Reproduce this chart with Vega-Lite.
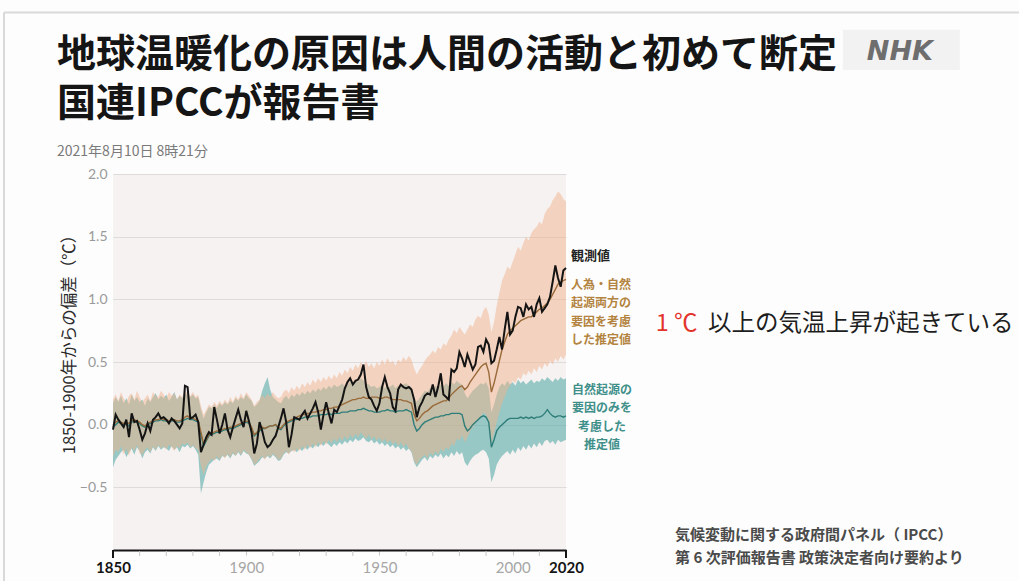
{
  "$schema": "https://vega.github.io/schema/vega-lite/v6.json",
  "width": 453,
  "height": 376,
  "autosize": {"type": "none"},
  "padding": {"left": 113, "top": 174, "right": 453, "bottom": 31},
  "background": "#fdfdfd",
  "config": {
    "view": {"fill": "#f7f2f2", "stroke": null},
    "font": "Noto Sans CJK JP"
  },
  "data": {
    "values": [
      {"year": 1850, "obs": -0.04, "hum": 0.00, "humLo": -0.26, "humHi": 0.20, "nat": -0.02, "natLo": -0.34, "natHi": 0.17},
      {"year": 1851, "obs": 0.08, "hum": 0.02, "humLo": -0.20, "humHi": 0.24, "nat": 0.00, "natLo": -0.28, "natHi": 0.22},
      {"year": 1852, "obs": 0.04, "hum": 0.03, "humLo": -0.22, "humHi": 0.19, "nat": 0.02, "natLo": -0.25, "natHi": 0.18},
      {"year": 1853, "obs": 0.01, "hum": 0.02, "humLo": -0.17, "humHi": 0.26, "nat": 0.01, "natLo": -0.22, "natHi": 0.23},
      {"year": 1854, "obs": -0.02, "hum": 0.01, "humLo": -0.24, "humHi": 0.21, "nat": 0.00, "natLo": -0.20, "natHi": 0.17},
      {"year": 1855, "obs": 0.04, "hum": 0.02, "humLo": -0.19, "humHi": 0.18, "nat": 0.01, "natLo": -0.26, "natHi": 0.21},
      {"year": 1856, "obs": -0.10, "hum": 0.01, "humLo": -0.25, "humHi": 0.23, "nat": -0.01, "natLo": -0.22, "natHi": 0.16},
      {"year": 1857, "obs": 0.09, "hum": 0.03, "humLo": -0.18, "humHi": 0.25, "nat": 0.02, "natLo": -0.19, "natHi": 0.24},
      {"year": 1858, "obs": 0.02, "hum": 0.04, "humLo": -0.21, "humHi": 0.20, "nat": 0.03, "natLo": -0.24, "natHi": 0.19},
      {"year": 1859, "obs": 0.03, "hum": 0.03, "humLo": -0.16, "humHi": 0.27, "nat": 0.02, "natLo": -0.18, "natHi": 0.22},
      {"year": 1860, "obs": -0.04, "hum": 0.02, "humLo": -0.23, "humHi": 0.22, "nat": 0.01, "natLo": -0.21, "natHi": 0.18},
      {"year": 1861, "obs": -0.12, "hum": 0.00, "humLo": -0.24, "humHi": 0.18, "nat": -0.01, "natLo": -0.27, "natHi": 0.20},
      {"year": 1862, "obs": -0.07, "hum": -0.01, "humLo": -0.20, "humHi": 0.21, "nat": -0.02, "natLo": -0.22, "natHi": 0.15},
      {"year": 1863, "obs": 0.01, "hum": 0.01, "humLo": -0.18, "humHi": 0.24, "nat": 0.00, "natLo": -0.20, "natHi": 0.21},
      {"year": 1864, "obs": -0.05, "hum": 0.02, "humLo": -0.22, "humHi": 0.19, "nat": 0.01, "natLo": -0.23, "natHi": 0.18},
      {"year": 1865, "obs": 0.04, "hum": 0.03, "humLo": -0.17, "humHi": 0.26, "nat": 0.02, "natLo": -0.18, "natHi": 0.22},
      {"year": 1866, "obs": 0.06, "hum": 0.04, "humLo": -0.20, "humHi": 0.23, "nat": 0.03, "natLo": -0.21, "natHi": 0.25},
      {"year": 1867, "obs": 0.09, "hum": 0.04, "humLo": -0.16, "humHi": 0.22, "nat": 0.03, "natLo": -0.17, "natHi": 0.20},
      {"year": 1868, "obs": 0.05, "hum": 0.05, "humLo": -0.19, "humHi": 0.27, "nat": 0.04, "natLo": -0.20, "natHi": 0.23},
      {"year": 1869, "obs": 0.06, "hum": 0.04, "humLo": -0.17, "humHi": 0.24, "nat": 0.03, "natLo": -0.18, "natHi": 0.21},
      {"year": 1870, "obs": 0.04, "hum": 0.04, "humLo": -0.20, "humHi": 0.21, "nat": 0.03, "natLo": -0.19, "natHi": 0.24},
      {"year": 1871, "obs": 0.01, "hum": 0.03, "humLo": -0.16, "humHi": 0.26, "nat": 0.02, "natLo": -0.21, "natHi": 0.19},
      {"year": 1872, "obs": 0.05, "hum": 0.04, "humLo": -0.18, "humHi": 0.23, "nat": 0.03, "natLo": -0.17, "natHi": 0.22},
      {"year": 1873, "obs": 0.03, "hum": 0.04, "humLo": -0.21, "humHi": 0.25, "nat": 0.03, "natLo": -0.20, "natHi": 0.26},
      {"year": 1874, "obs": 0.00, "hum": 0.03, "humLo": -0.17, "humHi": 0.20, "nat": 0.02, "natLo": -0.18, "natHi": 0.20},
      {"year": 1875, "obs": -0.03, "hum": 0.03, "humLo": -0.19, "humHi": 0.24, "nat": 0.02, "natLo": -0.22, "natHi": 0.23},
      {"year": 1876, "obs": 0.01, "hum": 0.04, "humLo": -0.15, "humHi": 0.22, "nat": 0.03, "natLo": -0.17, "natHi": 0.21},
      {"year": 1877, "obs": 0.31, "hum": 0.06, "humLo": -0.16, "humHi": 0.27, "nat": 0.04, "natLo": -0.18, "natHi": 0.25},
      {"year": 1878, "obs": 0.30, "hum": 0.07, "humLo": -0.14, "humHi": 0.25, "nat": 0.05, "natLo": -0.16, "natHi": 0.23},
      {"year": 1879, "obs": 0.05, "hum": 0.05, "humLo": -0.18, "humHi": 0.23, "nat": 0.04, "natLo": -0.19, "natHi": 0.22},
      {"year": 1880, "obs": 0.06, "hum": 0.05, "humLo": -0.16, "humHi": 0.26, "nat": 0.04, "natLo": -0.17, "natHi": 0.24},
      {"year": 1881, "obs": 0.08, "hum": 0.04, "humLo": -0.19, "humHi": 0.22, "nat": 0.03, "natLo": -0.20, "natHi": 0.21},
      {"year": 1882, "obs": 0.02, "hum": 0.03, "humLo": -0.20, "humHi": 0.24, "nat": 0.02, "natLo": -0.24, "natHi": 0.22},
      {"year": 1883, "obs": -0.22, "hum": -0.06, "humLo": -0.33, "humHi": 0.15, "nat": -0.08, "natLo": -0.55, "natHi": 0.12},
      {"year": 1884, "obs": -0.16, "hum": -0.15, "humLo": -0.40, "humHi": 0.08, "nat": -0.17, "natLo": -0.46, "natHi": 0.05},
      {"year": 1885, "obs": -0.10, "hum": -0.12, "humLo": -0.33, "humHi": 0.12, "nat": -0.13, "natLo": -0.38, "natHi": 0.10},
      {"year": 1886, "obs": -0.06, "hum": -0.08, "humLo": -0.30, "humHi": 0.16, "nat": -0.09, "natLo": -0.32, "natHi": 0.14},
      {"year": 1887, "obs": -0.08, "hum": -0.07, "humLo": -0.27, "humHi": 0.14, "nat": -0.08, "natLo": -0.30, "natHi": 0.13},
      {"year": 1888, "obs": 0.14, "hum": -0.06, "humLo": -0.29, "humHi": 0.18, "nat": -0.07, "natLo": -0.28, "natHi": 0.16},
      {"year": 1889, "obs": 0.04, "hum": -0.05, "humLo": -0.25, "humHi": 0.15, "nat": -0.06, "natLo": -0.27, "natHi": 0.13},
      {"year": 1890, "obs": -0.07, "hum": -0.05, "humLo": -0.28, "humHi": 0.19, "nat": -0.06, "natLo": -0.29, "natHi": 0.17},
      {"year": 1891, "obs": 0.00, "hum": -0.04, "humLo": -0.24, "humHi": 0.16, "nat": -0.05, "natLo": -0.25, "natHi": 0.15},
      {"year": 1892, "obs": 0.09, "hum": -0.03, "humLo": -0.27, "humHi": 0.20, "nat": -0.04, "natLo": -0.26, "natHi": 0.18},
      {"year": 1893, "obs": -0.04, "hum": -0.03, "humLo": -0.23, "humHi": 0.17, "nat": -0.04, "natLo": -0.24, "natHi": 0.16},
      {"year": 1894, "obs": -0.10, "hum": -0.02, "humLo": -0.26, "humHi": 0.22, "nat": -0.03, "natLo": -0.27, "natHi": 0.19},
      {"year": 1895, "obs": -0.02, "hum": -0.02, "humLo": -0.22, "humHi": 0.18, "nat": -0.03, "natLo": -0.23, "natHi": 0.17},
      {"year": 1896, "obs": 0.05, "hum": -0.01, "humLo": -0.25, "humHi": 0.23, "nat": -0.02, "natLo": -0.25, "natHi": 0.21},
      {"year": 1897, "obs": 0.12, "hum": 0.00, "humLo": -0.21, "humHi": 0.20, "nat": -0.01, "natLo": -0.22, "natHi": 0.19},
      {"year": 1898, "obs": 0.04, "hum": 0.01, "humLo": -0.24, "humHi": 0.25, "nat": 0.00, "natLo": -0.25, "natHi": 0.22},
      {"year": 1899, "obs": -0.02, "hum": 0.02, "humLo": -0.20, "humHi": 0.21, "nat": 0.01, "natLo": -0.21, "natHi": 0.20},
      {"year": 1900, "obs": 0.11, "hum": 0.03, "humLo": -0.22, "humHi": 0.26, "nat": 0.02, "natLo": -0.23, "natHi": 0.24},
      {"year": 1901, "obs": 0.03, "hum": 0.02, "humLo": -0.24, "humHi": 0.23, "nat": 0.01, "natLo": -0.24, "natHi": 0.21},
      {"year": 1902, "obs": -0.06, "hum": -0.02, "humLo": -0.27, "humHi": 0.20, "nat": -0.03, "natLo": -0.28, "natHi": 0.19},
      {"year": 1903, "obs": -0.23, "hum": -0.08, "humLo": -0.32, "humHi": 0.15, "nat": -0.09, "natLo": -0.33, "natHi": 0.14},
      {"year": 1904, "obs": -0.15, "hum": -0.06, "humLo": -0.30, "humHi": 0.18, "nat": -0.07, "natLo": -0.31, "natHi": 0.16},
      {"year": 1905, "obs": 0.02, "hum": -0.04, "humLo": -0.27, "humHi": 0.20, "nat": -0.05, "natLo": -0.29, "natHi": 0.19},
      {"year": 1906, "obs": -0.05, "hum": -0.02, "humLo": -0.25, "humHi": 0.24, "nat": -0.03, "natLo": -0.26, "natHi": 0.27},
      {"year": 1907, "obs": -0.14, "hum": -0.03, "humLo": -0.28, "humHi": 0.21, "nat": -0.03, "natLo": -0.27, "natHi": 0.33},
      {"year": 1908, "obs": -0.18, "hum": -0.02, "humLo": -0.24, "humHi": 0.25, "nat": -0.02, "natLo": -0.25, "natHi": 0.38},
      {"year": 1909, "obs": -0.16, "hum": -0.01, "humLo": -0.26, "humHi": 0.22, "nat": -0.01, "natLo": -0.27, "natHi": 0.28},
      {"year": 1910, "obs": -0.12, "hum": -0.01, "humLo": -0.23, "humHi": 0.26, "nat": -0.01, "natLo": -0.24, "natHi": 0.22},
      {"year": 1911, "obs": -0.09, "hum": 0.00, "humLo": -0.25, "humHi": 0.23, "nat": 0.00, "natLo": -0.26, "natHi": 0.20},
      {"year": 1912, "obs": -0.02, "hum": -0.02, "humLo": -0.28, "humHi": 0.21, "nat": -0.03, "natLo": -0.29, "natHi": 0.18},
      {"year": 1913, "obs": 0.05, "hum": -0.03, "humLo": -0.27, "humHi": 0.22, "nat": -0.04, "natLo": -0.28, "natHi": 0.17},
      {"year": 1914, "obs": 0.13, "hum": 0.00, "humLo": -0.23, "humHi": 0.26, "nat": -0.01, "natLo": -0.24, "natHi": 0.21},
      {"year": 1915, "obs": 0.02, "hum": 0.02, "humLo": -0.21, "humHi": 0.28, "nat": 0.01, "natLo": -0.22, "natHi": 0.23},
      {"year": 1916, "obs": -0.18, "hum": 0.03, "humLo": -0.24, "humHi": 0.25, "nat": 0.02, "natLo": -0.23, "natHi": 0.20},
      {"year": 1917, "obs": -0.08, "hum": 0.04, "humLo": -0.20, "humHi": 0.30, "nat": 0.03, "natLo": -0.21, "natHi": 0.24},
      {"year": 1918, "obs": 0.06, "hum": 0.05, "humLo": -0.22, "humHi": 0.27, "nat": 0.04, "natLo": -0.20, "natHi": 0.22},
      {"year": 1919, "obs": 0.05, "hum": 0.06, "humLo": -0.19, "humHi": 0.31, "nat": 0.04, "natLo": -0.22, "natHi": 0.25},
      {"year": 1920, "obs": 0.04, "hum": 0.07, "humLo": -0.21, "humHi": 0.28, "nat": 0.05, "natLo": -0.19, "natHi": 0.23},
      {"year": 1921, "obs": 0.08, "hum": 0.08, "humLo": -0.17, "humHi": 0.33, "nat": 0.05, "natLo": -0.21, "natHi": 0.26},
      {"year": 1922, "obs": 0.11, "hum": 0.08, "humLo": -0.20, "humHi": 0.30, "nat": 0.06, "natLo": -0.18, "natHi": 0.24},
      {"year": 1923, "obs": 0.05, "hum": 0.09, "humLo": -0.16, "humHi": 0.34, "nat": 0.06, "natLo": -0.20, "natHi": 0.27},
      {"year": 1924, "obs": 0.09, "hum": 0.09, "humLo": -0.19, "humHi": 0.31, "nat": 0.06, "natLo": -0.17, "natHi": 0.25},
      {"year": 1925, "obs": 0.13, "hum": 0.10, "humLo": -0.15, "humHi": 0.36, "nat": 0.07, "natLo": -0.19, "natHi": 0.28},
      {"year": 1926, "obs": 0.18, "hum": 0.10, "humLo": -0.18, "humHi": 0.33, "nat": 0.07, "natLo": -0.16, "natHi": 0.26},
      {"year": 1927, "obs": 0.10, "hum": 0.11, "humLo": -0.14, "humHi": 0.37, "nat": 0.07, "natLo": -0.18, "natHi": 0.29},
      {"year": 1928, "obs": -0.04, "hum": 0.11, "humLo": -0.17, "humHi": 0.34, "nat": 0.08, "natLo": -0.15, "natHi": 0.27},
      {"year": 1929, "obs": 0.08, "hum": 0.12, "humLo": -0.13, "humHi": 0.38, "nat": 0.08, "natLo": -0.17, "natHi": 0.30},
      {"year": 1930, "obs": 0.18, "hum": 0.12, "humLo": -0.16, "humHi": 0.35, "nat": 0.08, "natLo": -0.14, "natHi": 0.28},
      {"year": 1931, "obs": 0.09, "hum": 0.13, "humLo": -0.12, "humHi": 0.39, "nat": 0.09, "natLo": -0.16, "natHi": 0.31},
      {"year": 1932, "obs": 0.01, "hum": 0.13, "humLo": -0.15, "humHi": 0.36, "nat": 0.08, "natLo": -0.18, "natHi": 0.29},
      {"year": 1933, "obs": 0.12, "hum": 0.14, "humLo": -0.11, "humHi": 0.40, "nat": 0.09, "natLo": -0.15, "natHi": 0.32},
      {"year": 1934, "obs": 0.10, "hum": 0.14, "humLo": -0.14, "humHi": 0.37, "nat": 0.09, "natLo": -0.17, "natHi": 0.30},
      {"year": 1935, "obs": 0.15, "hum": 0.15, "humLo": -0.10, "humHi": 0.42, "nat": 0.09, "natLo": -0.14, "natHi": 0.31},
      {"year": 1936, "obs": 0.20, "hum": 0.16, "humLo": -0.13, "humHi": 0.39, "nat": 0.10, "natLo": -0.16, "natHi": 0.33},
      {"year": 1937, "obs": 0.29, "hum": 0.17, "humLo": -0.09, "humHi": 0.44, "nat": 0.10, "natLo": -0.13, "natHi": 0.30},
      {"year": 1938, "obs": 0.34, "hum": 0.18, "humLo": -0.12, "humHi": 0.41, "nat": 0.10, "natLo": -0.15, "natHi": 0.32},
      {"year": 1939, "obs": 0.37, "hum": 0.19, "humLo": -0.08, "humHi": 0.46, "nat": 0.11, "natLo": -0.12, "natHi": 0.34},
      {"year": 1940, "obs": 0.32, "hum": 0.20, "humLo": -0.11, "humHi": 0.43, "nat": 0.11, "natLo": -0.14, "natHi": 0.33},
      {"year": 1941, "obs": 0.35, "hum": 0.20, "humLo": -0.07, "humHi": 0.48, "nat": 0.11, "natLo": -0.11, "natHi": 0.36},
      {"year": 1942, "obs": 0.36, "hum": 0.21, "humLo": -0.10, "humHi": 0.45, "nat": 0.12, "natLo": -0.13, "natHi": 0.34},
      {"year": 1943, "obs": 0.40, "hum": 0.21, "humLo": -0.06, "humHi": 0.50, "nat": 0.12, "natLo": -0.12, "natHi": 0.37},
      {"year": 1944, "obs": 0.48, "hum": 0.22, "humLo": -0.09, "humHi": 0.47, "nat": 0.13, "natLo": -0.10, "natHi": 0.35},
      {"year": 1945, "obs": 0.30, "hum": 0.21, "humLo": -0.11, "humHi": 0.51, "nat": 0.12, "natLo": -0.13, "natHi": 0.33},
      {"year": 1946, "obs": 0.22, "hum": 0.21, "humLo": -0.08, "humHi": 0.46, "nat": 0.11, "natLo": -0.14, "natHi": 0.32},
      {"year": 1947, "obs": 0.20, "hum": 0.22, "humLo": -0.12, "humHi": 0.49, "nat": 0.11, "natLo": -0.12, "natHi": 0.30},
      {"year": 1948, "obs": 0.15, "hum": 0.22, "humLo": -0.09, "humHi": 0.45, "nat": 0.10, "natLo": -0.15, "natHi": 0.31},
      {"year": 1949, "obs": 0.11, "hum": 0.22, "humLo": -0.13, "humHi": 0.50, "nat": 0.10, "natLo": -0.13, "natHi": 0.29},
      {"year": 1950, "obs": 0.17, "hum": 0.21, "humLo": -0.10, "humHi": 0.47, "nat": 0.10, "natLo": -0.16, "natHi": 0.30},
      {"year": 1951, "obs": 0.30, "hum": 0.21, "humLo": -0.14, "humHi": 0.52, "nat": 0.11, "natLo": -0.14, "natHi": 0.32},
      {"year": 1952, "obs": 0.38, "hum": 0.22, "humLo": -0.11, "humHi": 0.48, "nat": 0.11, "natLo": -0.17, "natHi": 0.29},
      {"year": 1953, "obs": 0.30, "hum": 0.22, "humLo": -0.15, "humHi": 0.53, "nat": 0.12, "natLo": -0.15, "natHi": 0.31},
      {"year": 1954, "obs": 0.25, "hum": 0.21, "humLo": -0.12, "humHi": 0.49, "nat": 0.11, "natLo": -0.18, "natHi": 0.30},
      {"year": 1955, "obs": 0.14, "hum": 0.20, "humLo": -0.16, "humHi": 0.51, "nat": 0.11, "natLo": -0.16, "natHi": 0.32},
      {"year": 1956, "obs": 0.11, "hum": 0.20, "humLo": -0.13, "humHi": 0.47, "nat": 0.10, "natLo": -0.19, "natHi": 0.29},
      {"year": 1957, "obs": 0.28, "hum": 0.20, "humLo": -0.17, "humHi": 0.52, "nat": 0.11, "natLo": -0.17, "natHi": 0.31},
      {"year": 1958, "obs": 0.32, "hum": 0.20, "humLo": -0.14, "humHi": 0.50, "nat": 0.11, "natLo": -0.20, "natHi": 0.30},
      {"year": 1959, "obs": 0.30, "hum": 0.19, "humLo": -0.18, "humHi": 0.54, "nat": 0.11, "natLo": -0.18, "natHi": 0.32},
      {"year": 1960, "obs": 0.29, "hum": 0.19, "humLo": -0.15, "humHi": 0.51, "nat": 0.12, "natLo": -0.21, "natHi": 0.33},
      {"year": 1961, "obs": 0.30, "hum": 0.18, "humLo": -0.19, "humHi": 0.55, "nat": 0.11, "natLo": -0.19, "natHi": 0.31},
      {"year": 1962, "obs": 0.28, "hum": 0.17, "humLo": -0.21, "humHi": 0.52, "nat": 0.10, "natLo": -0.22, "natHi": 0.30},
      {"year": 1963, "obs": 0.20, "hum": 0.08, "humLo": -0.29, "humHi": 0.45, "nat": 0.00, "natLo": -0.30, "natHi": 0.22},
      {"year": 1964, "obs": 0.06, "hum": 0.03, "humLo": -0.32, "humHi": 0.40, "nat": -0.05, "natLo": -0.34, "natHi": 0.18},
      {"year": 1965, "obs": 0.14, "hum": 0.05, "humLo": -0.28, "humHi": 0.44, "nat": -0.03, "natLo": -0.31, "natHi": 0.21},
      {"year": 1966, "obs": 0.18, "hum": 0.08, "humLo": -0.26, "humHi": 0.47, "nat": 0.00, "natLo": -0.28, "natHi": 0.24},
      {"year": 1967, "obs": 0.23, "hum": 0.10, "humLo": -0.24, "humHi": 0.51, "nat": 0.02, "natLo": -0.26, "natHi": 0.27},
      {"year": 1968, "obs": 0.25, "hum": 0.11, "humLo": -0.27, "humHi": 0.54, "nat": 0.03, "natLo": -0.29, "natHi": 0.26},
      {"year": 1969, "obs": 0.24, "hum": 0.13, "humLo": -0.22, "humHi": 0.56, "nat": 0.04, "natLo": -0.25, "natHi": 0.29},
      {"year": 1970, "obs": 0.32, "hum": 0.15, "humLo": -0.25, "humHi": 0.59, "nat": 0.05, "natLo": -0.27, "natHi": 0.28},
      {"year": 1971, "obs": 0.22, "hum": 0.16, "humLo": -0.21, "humHi": 0.57, "nat": 0.06, "natLo": -0.24, "natHi": 0.31},
      {"year": 1972, "obs": 0.30, "hum": 0.17, "humLo": -0.24, "humHi": 0.62, "nat": 0.06, "natLo": -0.26, "natHi": 0.29},
      {"year": 1973, "obs": 0.41, "hum": 0.18, "humLo": -0.19, "humHi": 0.60, "nat": 0.07, "natLo": -0.23, "natHi": 0.32},
      {"year": 1974, "obs": 0.24, "hum": 0.19, "humLo": -0.22, "humHi": 0.65, "nat": 0.07, "natLo": -0.27, "natHi": 0.30},
      {"year": 1975, "obs": 0.22, "hum": 0.19, "humLo": -0.18, "humHi": 0.63, "nat": 0.08, "natLo": -0.24, "natHi": 0.33},
      {"year": 1976, "obs": 0.20, "hum": 0.21, "humLo": -0.20, "humHi": 0.68, "nat": 0.08, "natLo": -0.26, "natHi": 0.31},
      {"year": 1977, "obs": 0.44, "hum": 0.24, "humLo": -0.15, "humHi": 0.71, "nat": 0.09, "natLo": -0.22, "natHi": 0.34},
      {"year": 1978, "obs": 0.42, "hum": 0.26, "humLo": -0.17, "humHi": 0.76, "nat": 0.09, "natLo": -0.25, "natHi": 0.32},
      {"year": 1979, "obs": 0.45, "hum": 0.28, "humLo": -0.11, "humHi": 0.73, "nat": 0.09, "natLo": -0.21, "natHi": 0.35},
      {"year": 1980, "obs": 0.58, "hum": 0.30, "humLo": -0.13, "humHi": 0.78, "nat": 0.09, "natLo": -0.24, "natHi": 0.33},
      {"year": 1981, "obs": 0.53, "hum": 0.31, "humLo": -0.08, "humHi": 0.75, "nat": 0.08, "natLo": -0.22, "natHi": 0.32},
      {"year": 1982, "obs": 0.46, "hum": 0.28, "humLo": -0.14, "humHi": 0.72, "nat": -0.01, "natLo": -0.30, "natHi": 0.25},
      {"year": 1983, "obs": 0.56, "hum": 0.30, "humLo": -0.10, "humHi": 0.76, "nat": -0.05, "natLo": -0.33, "natHi": 0.21},
      {"year": 1984, "obs": 0.50, "hum": 0.34, "humLo": -0.05, "humHi": 0.80, "nat": -0.03, "natLo": -0.29, "natHi": 0.24},
      {"year": 1985, "obs": 0.44, "hum": 0.37, "humLo": -0.02, "humHi": 0.78, "nat": 0.00, "natLo": -0.26, "natHi": 0.27},
      {"year": 1986, "obs": 0.48, "hum": 0.40, "humLo": 0.01, "humHi": 0.84, "nat": 0.02, "natLo": -0.24, "natHi": 0.29},
      {"year": 1987, "obs": 0.62, "hum": 0.43, "humLo": 0.04, "humHi": 0.87, "nat": 0.04, "natLo": -0.23, "natHi": 0.31},
      {"year": 1988, "obs": 0.63, "hum": 0.46, "humLo": 0.06, "humHi": 0.85, "nat": 0.06, "natLo": -0.21, "natHi": 0.33},
      {"year": 1989, "obs": 0.58, "hum": 0.48, "humLo": 0.10, "humHi": 0.91, "nat": 0.07, "natLo": -0.20, "natHi": 0.32},
      {"year": 1990, "obs": 0.68, "hum": 0.49, "humLo": 0.08, "humHi": 0.94, "nat": 0.06, "natLo": -0.22, "natHi": 0.34},
      {"year": 1991, "obs": 0.64, "hum": 0.42, "humLo": 0.02, "humHi": 0.88, "nat": 0.02, "natLo": -0.27, "natHi": 0.29},
      {"year": 1992, "obs": 0.49, "hum": 0.26, "humLo": -0.15, "humHi": 0.74, "nat": -0.18, "natLo": -0.46, "natHi": 0.10},
      {"year": 1993, "obs": 0.51, "hum": 0.33, "humLo": -0.06, "humHi": 0.82, "nat": -0.12, "natLo": -0.40, "natHi": 0.16},
      {"year": 1994, "obs": 0.60, "hum": 0.42, "humLo": 0.02, "humHi": 0.95, "nat": -0.05, "natLo": -0.32, "natHi": 0.24},
      {"year": 1995, "obs": 0.70, "hum": 0.51, "humLo": 0.10, "humHi": 1.05, "nat": -0.02, "natLo": -0.28, "natHi": 0.30},
      {"year": 1996, "obs": 0.60, "hum": 0.60, "humLo": 0.17, "humHi": 1.15, "nat": 0.00, "natLo": -0.25, "natHi": 0.33},
      {"year": 1997, "obs": 0.76, "hum": 0.66, "humLo": 0.22, "humHi": 1.20, "nat": 0.02, "natLo": -0.23, "natHi": 0.31},
      {"year": 1998, "obs": 0.90, "hum": 0.72, "humLo": 0.28, "humHi": 1.26, "nat": 0.04, "natLo": -0.21, "natHi": 0.35},
      {"year": 1999, "obs": 0.72, "hum": 0.75, "humLo": 0.31, "humHi": 1.24, "nat": 0.05, "natLo": -0.24, "natHi": 0.32},
      {"year": 2000, "obs": 0.75, "hum": 0.77, "humLo": 0.35, "humHi": 1.30, "nat": 0.05, "natLo": -0.20, "natHi": 0.34},
      {"year": 2001, "obs": 0.86, "hum": 0.79, "humLo": 0.33, "humHi": 1.36, "nat": 0.05, "natLo": -0.23, "natHi": 0.31},
      {"year": 2002, "obs": 0.94, "hum": 0.81, "humLo": 0.38, "humHi": 1.42, "nat": 0.05, "natLo": -0.18, "natHi": 0.36},
      {"year": 2003, "obs": 0.93, "hum": 0.83, "humLo": 0.36, "humHi": 1.39, "nat": 0.06, "natLo": -0.21, "natHi": 0.33},
      {"year": 2004, "obs": 0.86, "hum": 0.84, "humLo": 0.41, "humHi": 1.45, "nat": 0.05, "natLo": -0.17, "natHi": 0.35},
      {"year": 2005, "obs": 0.96, "hum": 0.85, "humLo": 0.39, "humHi": 1.50, "nat": 0.06, "natLo": -0.20, "natHi": 0.32},
      {"year": 2006, "obs": 0.92, "hum": 0.86, "humLo": 0.43, "humHi": 1.47, "nat": 0.05, "natLo": -0.16, "natHi": 0.34},
      {"year": 2007, "obs": 0.94, "hum": 0.86, "humLo": 0.40, "humHi": 1.53, "nat": 0.06, "natLo": -0.19, "natHi": 0.36},
      {"year": 2008, "obs": 0.86, "hum": 0.88, "humLo": 0.45, "humHi": 1.56, "nat": 0.05, "natLo": -0.15, "natHi": 0.33},
      {"year": 2009, "obs": 0.96, "hum": 0.90, "humLo": 0.42, "humHi": 1.58, "nat": 0.06, "natLo": -0.18, "natHi": 0.35},
      {"year": 2010, "obs": 1.01, "hum": 0.92, "humLo": 0.47, "humHi": 1.62, "nat": 0.06, "natLo": -0.14, "natHi": 0.34},
      {"year": 2011, "obs": 0.90, "hum": 0.93, "humLo": 0.44, "humHi": 1.60, "nat": 0.07, "natLo": -0.17, "natHi": 0.37},
      {"year": 2012, "obs": 0.93, "hum": 0.95, "humLo": 0.49, "humHi": 1.68, "nat": 0.09, "natLo": -0.13, "natHi": 0.35},
      {"year": 2013, "obs": 0.96, "hum": 0.97, "humLo": 0.46, "humHi": 1.72, "nat": 0.12, "natLo": -0.12, "natHi": 0.38},
      {"year": 2014, "obs": 1.02, "hum": 1.00, "humLo": 0.51, "humHi": 1.74, "nat": 0.09, "natLo": -0.15, "natHi": 0.36},
      {"year": 2015, "obs": 1.14, "hum": 1.04, "humLo": 0.48, "humHi": 1.79, "nat": 0.07, "natLo": -0.13, "natHi": 0.34},
      {"year": 2016, "obs": 1.27, "hum": 1.08, "humLo": 0.53, "humHi": 1.82, "nat": 0.06, "natLo": -0.16, "natHi": 0.37},
      {"year": 2017, "obs": 1.17, "hum": 1.12, "humLo": 0.50, "humHi": 1.86, "nat": 0.07, "natLo": -0.12, "natHi": 0.35},
      {"year": 2018, "obs": 1.10, "hum": 1.14, "humLo": 0.55, "humHi": 1.84, "nat": 0.07, "natLo": -0.14, "natHi": 0.38},
      {"year": 2019, "obs": 1.23, "hum": 1.15, "humLo": 0.52, "humHi": 1.80, "nat": 0.06, "natLo": -0.13, "natHi": 0.36},
      {"year": 2020, "obs": 1.25, "hum": 1.16, "humLo": 0.56, "humHi": 1.78, "nat": 0.07, "natLo": -0.12, "natHi": 0.37}
    ]
  },
  "layer": [
    {
      "mark": {"type": "area", "color": "#4aa6a1", "opacity": 0.55},
      "encoding": {
        "x": {
          "field": "year",
          "type": "quantitative",
          "scale": {"domain": [1850, 2020], "nice": false, "zero": false},
          "axis": {
            "title": null,
            "values": [1850, 1900, 1950, 2000, 2020],
            "format": "d",
            "grid": false,
            "domainColor": "#151515",
            "domainWidth": 2,
            "tickColor": "#c8c8c8",
            "tickWidth": 1,
            "tickSize": 5,
            "labelFont": "Lato",
            "labelFontSize": 15,
            "labelColor": {"condition": {"test": "datum.value == 1850 || datum.value == 2020", "value": "#151515"}, "value": "#a6a6a6"},
            "labelFontWeight": {"condition": {"test": "datum.value == 1850 || datum.value == 2020", "value": "bold"}, "value": "normal"},
            "labelPadding": 5,
            "labelOverlap": false,
            "labelFlush": false,
            "labelBound": false
          }
        },
        "y": {
          "field": "natLo",
          "type": "quantitative",
          "scale": {"domain": [-1, 2], "nice": false, "zero": false},
          "axis": {
            "values": [-0.5, 0, 0.5, 1, 1.5, 2],
            "format": ".1f",
            "domain": false,
            "ticks": false,
            "grid": true,
            "gridColor": "#dedbdb",
            "gridWidth": 1,
            "labelFont": "Lato",
            "labelFontSize": 14,
            "labelColor": "#9a9a9a",
            "labelPadding": 6,
            "title": "1850-1900年からの偏差（℃）",
            "titleFont": "Noto Sans CJK JP",
            "titleFontSize": 16.5,
            "titleFontWeight": "normal",
            "titleColor": "#2a2a2a",
            "titleAngle": 270,
            "titleAlign": "center",
            "titleBaseline": "middle",
            "titleX": -44,
            "titleY": 166
          }
        },
        "y2": {"field": "natHi"}
      }
    },
    {
      "mark": {"type": "area", "color": "#efb48c", "opacity": 0.5},
      "encoding": {
        "x": {"field": "year", "type": "quantitative"},
        "y": {"field": "humLo", "type": "quantitative"},
        "y2": {"field": "humHi"}
      }
    },
    {
      "mark": {"type": "line", "color": "#2e7d78", "strokeWidth": 1.4},
      "encoding": {
        "x": {"field": "year", "type": "quantitative"},
        "y": {"field": "nat", "type": "quantitative"}
      }
    },
    {
      "mark": {"type": "line", "color": "#9a6a3a", "strokeWidth": 1.4},
      "encoding": {
        "x": {"field": "year", "type": "quantitative"},
        "y": {"field": "hum", "type": "quantitative"}
      }
    },
    {
      "mark": {"type": "line", "color": "#141414", "strokeWidth": 2},
      "encoding": {
        "x": {"field": "year", "type": "quantitative"},
        "y": {"field": "obs", "type": "quantitative"}
      }
    },
    {
      "data": {"values": [{"year": 1860}, {"year": 1870}, {"year": 1880}, {"year": 1890}, {"year": 1910}, {"year": 1920}, {"year": 1930}, {"year": 1940}, {"year": 1960}, {"year": 1970}, {"year": 1980}, {"year": 1990}, {"year": 2010}]},
      "mark": {"type": "rule", "color": "#c8c8c8", "strokeWidth": 1},
      "encoding": {
        "x": {"field": "year", "type": "quantitative"},
        "y": {"datum": -1.008, "type": "quantitative"},
        "y2": {"datum": -1.048}
      }
    },
    {
      "data": {"values": [{"year": 1850}, {"year": 2020}]},
      "mark": {"type": "rule", "color": "#151515", "strokeWidth": 2},
      "encoding": {
        "x": {"field": "year", "type": "quantitative"},
        "y": {"datum": -1, "type": "quantitative"},
        "y2": {"datum": -1.064}
      }
    },
    {
      "data": {"values": [{}]},
      "mark": {"type": "text", "text": "地球温暖化の原因は人間の活動と初めて断定", "align": "left", "baseline": "middle", "font": "Noto Sans CJK JP", "fontSize": 39, "fontWeight": "bold", "color": "#151515"},
      "encoding": {
        "x": {"datum": 1829, "type": "quantitative"},
        "y": {"datum": 2.951, "type": "quantitative"}
      }
    },
    {
      "data": {"values": [{}]},
      "mark": {"type": "text", "text": "国連IPCCが報告書", "align": "left", "baseline": "middle", "font": "Noto Sans CJK JP", "fontSize": 39, "fontWeight": "bold", "color": "#151515"},
      "encoding": {
        "x": {"datum": 1829, "type": "quantitative"},
        "y": {"datum": 2.56, "type": "quantitative"}
      }
    },
    {
      "data": {"values": [{}]},
      "mark": {"type": "text", "text": "2021年8月10日 8時21分", "align": "left", "baseline": "middle", "font": "Noto Sans CJK JP", "fontSize": 14, "color": "#7a7a7a"},
      "encoding": {
        "x": {"datum": 1829, "type": "quantitative"},
        "y": {"datum": 2.175, "type": "quantitative"}
      }
    },
    {
      "data": {"values": [{}]},
      "mark": {"type": "text", "text": "観測値", "align": "left", "baseline": "middle", "font": "Noto Sans CJK JP", "fontSize": 13, "fontWeight": "bold", "color": "#222222"},
      "encoding": {
        "x": {"datum": 2021.9, "type": "quantitative"},
        "y": {"datum": 1.346, "type": "quantitative"}
      }
    },
    {
      "data": {"values": [{}]},
      "mark": {"type": "text", "text": ["人為・自然", "起源両方の", "要因を考慮", "した推定値"], "align": "left", "baseline": "middle", "lineHeight": 18.5, "font": "Noto Sans CJK JP", "fontSize": 12, "fontWeight": "bold", "color": "#b3843f"},
      "encoding": {
        "x": {"datum": 2021.9, "type": "quantitative"},
        "y": {"datum": 1.115, "type": "quantitative"}
      }
    },
    {
      "data": {"values": [{}]},
      "mark": {"type": "text", "text": ["自然起源の", "要因のみを", "考慮した", "推定値"], "align": "center", "baseline": "middle", "lineHeight": 18.5, "font": "Noto Sans CJK JP", "fontSize": 12, "fontWeight": "bold", "color": "#3f8f8a"},
      "encoding": {
        "x": {"datum": 2033.5, "type": "quantitative"},
        "y": {"datum": 0.277, "type": "quantitative"}
      }
    },
    {
      "data": {"values": [{}]},
      "mark": {"type": "text", "text": "1 ℃", "align": "left", "baseline": "middle", "font": "Noto Sans CJK JP", "fontSize": 23.5, "color": "#e3342c"},
      "encoding": {
        "x": {"datum": 2053.7, "type": "quantitative"},
        "y": {"datum": 0.8, "type": "quantitative"}
      }
    },
    {
      "data": {"values": [{}]},
      "mark": {"type": "text", "text": "以上の気温上昇が起きている", "align": "left", "baseline": "middle", "font": "Noto Sans CJK JP", "fontSize": 23.5, "color": "#1e1e1e"},
      "encoding": {
        "x": {"datum": 2073.3, "type": "quantitative"},
        "y": {"datum": 0.8, "type": "quantitative"}
      }
    },
    {
      "data": {"values": [{}]},
      "mark": {"type": "text", "text": ["気候変動に関する政府間パネル（ IPCC）", "第 6 次評価報告書 政策決定者向け要約より"], "align": "left", "baseline": "middle", "lineHeight": 23, "font": "Noto Sans CJK JP", "fontSize": 15, "fontWeight": "bold", "color": "#4a4a4a"},
      "encoding": {
        "x": {"datum": 2060.9, "type": "quantitative"},
        "y": {"datum": -0.88, "type": "quantitative"}
      }
    },
    {
      "data": {"values": [{}]},
      "mark": {"type": "rect", "color": "#f2f2f2"},
      "encoding": {
        "x": {"datum": 2123.9, "type": "quantitative"},
        "x2": {"datum": 2167.8},
        "y": {"datum": 3.15, "type": "quantitative"},
        "y2": {"datum": 2.83}
      }
    },
    {
      "data": {"values": [{}]},
      "mark": {"type": "text", "text": "NHK", "align": "center", "baseline": "middle", "font": "DejaVu Sans", "fontSize": 27, "fontWeight": "bold", "fontStyle": "italic", "color": "#6e6e6e"},
      "encoding": {
        "x": {"datum": 2145.3, "type": "quantitative"},
        "y": {"datum": 2.975, "type": "quantitative"}
      }
    },
    {
      "data": {"values": [{}]},
      "mark": {"type": "rule", "color": "#d9d9d9", "strokeWidth": 2},
      "encoding": {
        "x": {"datum": 1809.1, "type": "quantitative"},
        "y": {"datum": 3.288, "type": "quantitative"},
        "y2": {"datum": -1.3}
      }
    },
    {
      "data": {"values": [{}]},
      "mark": {"type": "rule", "color": "#d9d9d9", "strokeWidth": 2},
      "encoding": {
        "x": {"datum": 1809.1, "type": "quantitative"},
        "x2": {"datum": 2200},
        "y": {"datum": 3.288, "type": "quantitative"}
      }
    }
  ]
}
